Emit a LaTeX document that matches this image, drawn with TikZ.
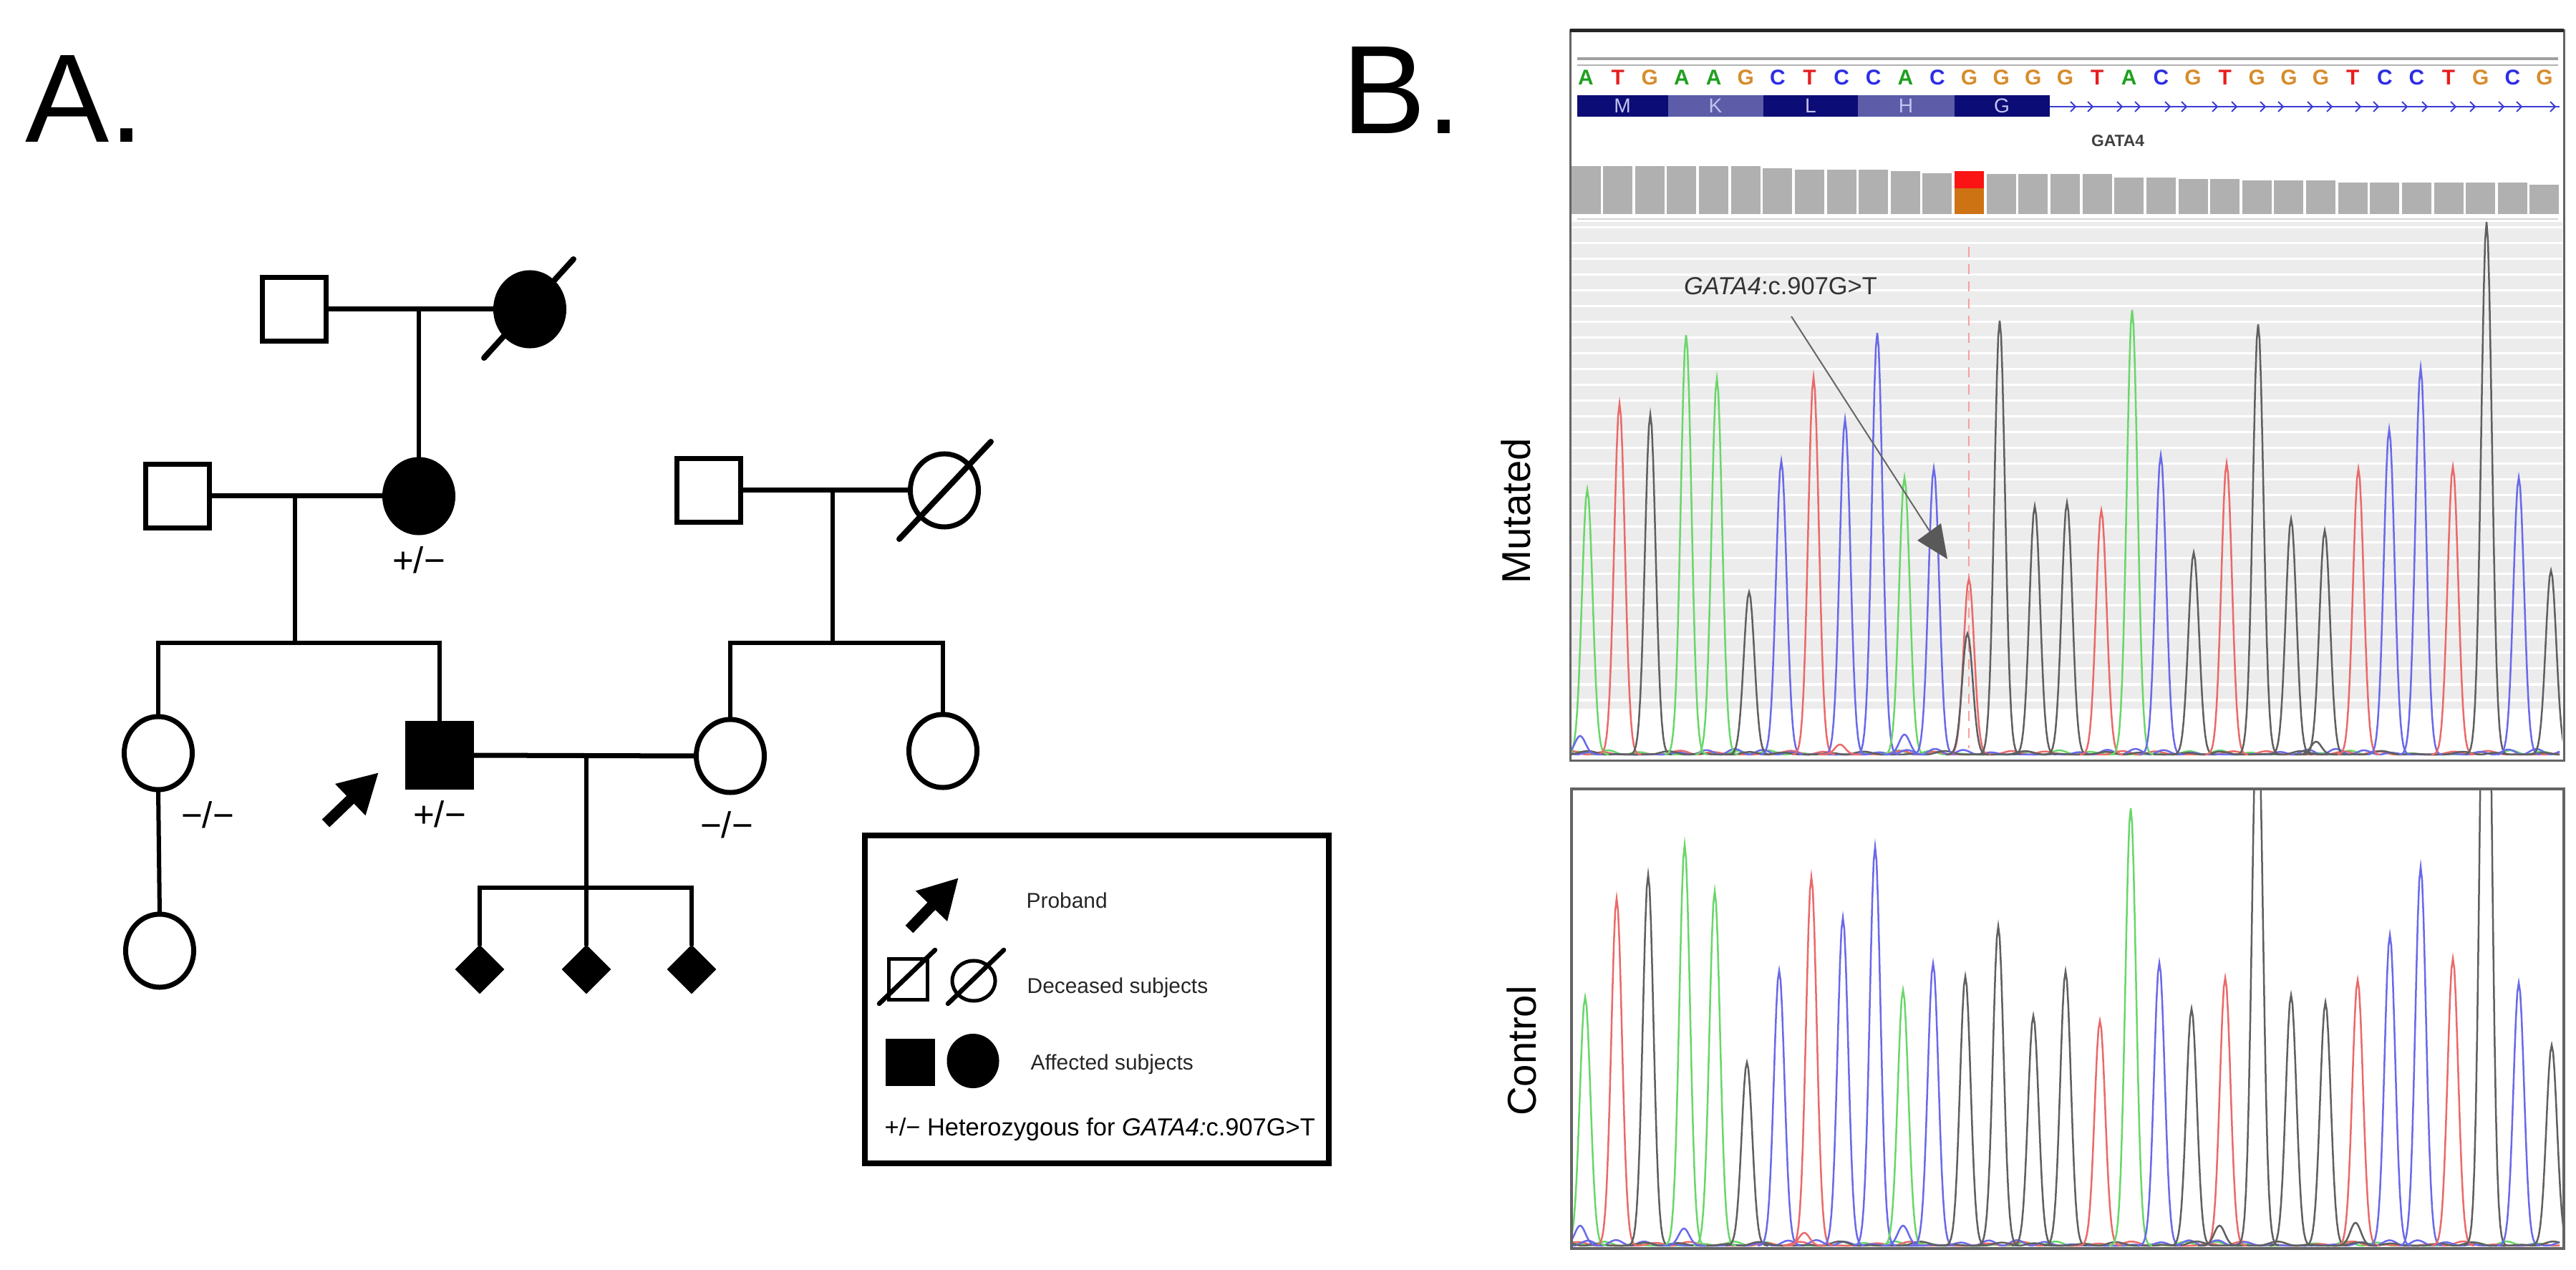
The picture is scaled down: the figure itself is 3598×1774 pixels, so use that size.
\documentclass[tikz,border=0pt]{standalone}
\usepackage{fontspec}
\setmainfont{Liberation Sans}
\usetikzlibrary{shapes.geometric,arrows.meta}
\definecolor{trg}{RGB}{105,215,105}
\definecolor{trr}{RGB}{235,105,105}
\definecolor{trb}{RGB}{105,105,235}
\definecolor{trk}{RGB}{95,95,95}
\definecolor{colA}{RGB}{30,160,30}
\definecolor{colT}{RGB}{230,30,30}
\definecolor{colG}{RGB}{215,140,45}
\definecolor{colC}{RGB}{45,45,230}
\definecolor{navy}{RGB}{12,12,118}
\definecolor{slate}{RGB}{92,92,168}
\definecolor{aalbl}{RGB}{195,195,240}
\definecolor{covgray}{RGB}{176,176,176}
\definecolor{covred}{RGB}{250,20,20}
\definecolor{covorg}{RGB}{205,115,20}
\definecolor{readbg}{RGB}{236,236,236}
\definecolor{dashred}{RGB}{245,160,160}
\definecolor{framegray}{RGB}{100,100,100}
\definecolor{tline}{RGB}{60,60,210}
\begin{document}
\begin{tikzpicture}[x=0.01cm,y=-0.01cm]
\tikzset{
 pline/.style={line width=0.06cm},
 mline/.style={line width=0.07cm},
 male/.style={draw, line width=0.07cm, rectangle, minimum size=0.89cm, inner sep=0pt, outer sep=0pt, fill=white},
 female/.style={draw, line width=0.07cm, ellipse, minimum width=0.95cm, minimum height=1.02cm, inner sep=0pt, outer sep=0pt, fill=white},
 aff/.style={fill=black},
 unk/.style={draw, fill=black, diamond, line width=0.02cm, minimum width=0.66cm, minimum height=0.66cm, inner sep=0pt, outer sep=0pt},
 slash/.style={line width=0.08cm, line cap=round},
 geno/.style={font=\fontsize{14.5}{16}\selectfont, inner sep=0pt},
 prob/.style={line width=0.15cm, -{Triangle[width=0.57cm,length=0.55cm]}},
 legtxt/.style={font=\fontsize{8.5}{10}\selectfont, text=black!85, anchor=base west, inner sep=0pt},
 big/.style={font=\fontsize{50}{60}\selectfont, anchor=base west, inner sep=0pt},
 side/.style={font=\fontsize{16}{18}\selectfont, rotate=90, inner sep=0pt},
 trace/.style={line width=0.025cm},
}
\useasboundingbox (0,0) rectangle (3598,1774);
\fill[white] (0,0) rectangle (3598,1774);

% ---------- panel labels
\node[big] (labA) at (35,199) {A.};
\node[big] (labB) at (1874,187) {B.};

% ---------- pedigree
\node[male] (I1) at (411,432) {};
\node[female,aff] (I2) at (740,432) {};
\draw[slash] ([shift={(-64,68)}]I2.center) -- ([shift={(61,-70)}]I2.center);
\draw[mline] (I1.east) -- (I2.west);
\coordinate (m1) at (585,432);

\node[male] (II1) at (248,693) {};
\node[female,aff] (II2) at (585,693) {};
\draw[pline] (m1) -- (II2.north);
\draw[mline] (II1.east) -- (II2.west);
\node[geno] (g1) at (585,782) {+/−};
\coordinate (m2) at (412,693);
\coordinate (s1) at (412,898);
\draw[pline] (m2) -- (s1);

\node[male] (II3) at (990,685) {};
\node[female] (II4) at (1319,685) {};
\draw[slash] ([shift={(-63,68)}]II4.center) -- ([shift={(65,-68)}]II4.center);
\draw[mline] (II3.east) -- (II4.west);
\coordinate (m3) at (1163,685);
\coordinate (s2) at (1163,898);
\draw[pline] (m3) -- (s2);

\node[female] (III1) at (221,1052) {};
\node[male,aff] (III2) at (614,1055) {};
\node[female] (III3) at (1020,1056) {};
\node[female] (III4) at (1317,1049) {};
\node[female] (IV1) at (223,1328) {};
\coordinate (s1a) at (221,898);
\coordinate (s1b) at (614,898);
\coordinate (s2a) at (1020,898);
\coordinate (s2b) at (1317,898);
\draw[pline] (III1.north) -- (s1a) -- (s1b) -- (III2.north);
\draw[pline] (III3.north) -- (s2a) -- (s2b) -- (III4.north);
\draw[pline] (III1.south) -- (IV1.north);
\draw[mline] (III2.east) -- (III3.west);
\node[geno] (g2) at (290,1138) {−/−};
\node[geno] (g3) at (614,1137) {+/−};
\node[geno] (g4) at (1015,1152) {−/−};
\coordinate (pa1) at (455,1150);
\coordinate (pa2) at (529,1079);
\draw[prob] (pa1) -- (pa2);

\coordinate (m4) at (819,1055);
\node[unk] (D1) at (670,1354) {};
\node[unk] (D2) at (819,1354) {};
\node[unk] (D3) at (966,1354) {};
\coordinate (s3a) at (670,1240);
\coordinate (s3b) at (966,1240);
\draw[pline] (D1.north) -- (s3a) -- (s3b) -- (D3.north);
\draw[pline] (m4) -- (D2.north);

% ---------- legend
\node[draw, line width=0.08cm, minimum width=6.47cm, minimum height=4.58cm, inner sep=0pt] (leg) at (1532,1396) {};
\coordinate (la1) at (1270,1298);
\coordinate (la2) at (1339,1226);
\draw[prob] (la1) -- (la2);
\node[legtxt] (t1) at (1433,1268) {Proband};
\node[draw, line width=0.05cm, minimum width=0.54cm, minimum height=0.56cm, inner sep=0pt] (L1) at (1268,1368) {};
\draw[slash, line width=0.065cm] (1228,1402) -- (1306,1327);
\node[draw, ellipse, line width=0.05cm, minimum width=0.6cm, minimum height=0.56cm, inner sep=0pt] (L2) at (1360,1370) {};
\draw[slash, line width=0.065cm] (1324,1402) -- (1402,1327);
\node[legtxt] (t2) at (1434,1387) {Deceased subjects};
\node[fill=black, minimum width=0.69cm, minimum height=0.66cm, inner sep=0pt] (L3) at (1271,1484) {};
\node[fill=black, ellipse, minimum width=0.73cm, minimum height=0.76cm, inner sep=0pt] (L4) at (1359,1482) {};
\node[legtxt] (t3) at (1439,1494) {Affected subjects};
\node[legtxt, font=\fontsize{9.8}{11}\selectfont, text=black] (t4) at (1235,1586) {+/− Heterozygous for \textit{GATA4:}c.907G>T};

% ---------- B: mutated panel
\fill[white] (2193,43) rectangle (3581,1062);
\fill[readbg] (2195,310) rectangle (3579,990);
\foreach \k in {0,...,30} \draw[white, line width=0.03cm] (2195,{318+22*\k}) -- (3579,{318+22*\k});
\draw[gray!75, line width=0.04cm] (2203,82) -- (3573,82);
\draw[gray!60, line width=0.025cm] (2203,91) -- (3573,91);
\foreach \b [count=\i from 0] in {A,T,G,A,A,G,C,T,C,C,A,C,G,G,G,G,T,A,C,G,T,G,G,G,T,C,C,T,G,C,G}
  \node[font=\bfseries\fontsize{8.5}{10}\selectfont, text=col\b, inner sep=0pt] (base\i) at ({2215+44.63*\i},108) {\b};
\fill[navy] (2203,133) rectangle (2330,163);
\fill[slate] (2330,133) rectangle (2463,163);
\fill[navy] (2463,133) rectangle (2595,163);
\fill[slate] (2595,133) rectangle (2730,163);
\fill[navy] (2730,133) rectangle (2863,163);
\foreach \a/\xx in {M/2266,K/2396,L/2529,H/2662,G/2796}
  \node[font=\fontsize{8}{9}\selectfont, text=aalbl, inner sep=0pt] (aa\a) at (\xx,148) {\a};
\draw[tline, line width=0.02cm] (2863,149) -- (3575,149);
\foreach \xx in {2897,2921,2962,2987,3029,3052,3095,3122,3162,3187,3228,3255,3295,3320,3360,3388,3428,3455,3495,3520,3567}
  \draw[tline, line width=0.02cm] (\xx-5,142) -- (\xx+2,149) -- (\xx-5,156);
\node[font=\bfseries\fontsize{6.5}{8}\selectfont, text=black!75, inner sep=0pt] (gene) at (2958,197) {GATA4};
\foreach \h [count=\i from 0] in {232,232,232,232,232,232,235,237,237,237,239,242,239,243,243,243,243,248,248,250,250,252,252,252,255,255,255,255,255,255,258}
  \fill[covgray] ({2215+44.63*\i-20.5},\h) rectangle ({2215+44.63*\i+20.5},299);
\fill[covred] (2730,239) rectangle (2771,263);
\fill[covorg] (2730,263) rectangle (2771,299);
\draw[gray!35, line width=0.02cm] (2203,306) -- (3573,306);
\draw[dashred, line width=0.025cm, dash pattern=on 0.14cm off 0.1cm] (2750,345) -- (2750,1045);

\begin{scope}
\clip (2195,300) rectangle (3579,1060);
\def\bl{1054}
\foreach \col/\fa/\fb/\pa/\pb/\am in {trg/8/1.7/40/10/3, trr/7/2.3/120/70/3, trb/9/1.3/200/150/4, trk/6.5/2.9/300/30/2.5}
  \draw[trace, color=\col] plot[domain=0:1380, samples=320] ({2195+\x}, {\bl-\am*(1+sin(\x*\fa+\pa))*(0.5+0.5*sin(\x*\fb+\pb))});
\foreach \px/\pt/\pc in {2217/684/trg, 2262/564/trr, 2305/579/trk, 2355/468/trg, 2398/529/trg, 2443/827/trk, 2488/644/trb, 2533/527/trr, 2577/586/trb, 2622/465/trb, 2660/667/trg, 2701/654/trb, 2750/809/trr, 2748/885/trk, 2793/448/trk, 2842/707/trk, 2887/702/trk, 2935/713/trr, 2978/433/trg, 3018/636/trb, 3064/772/trk, 3110/647/trr, 3154/453/trk, 3200/725/trk, 3247/741/trk, 3294/655/trr, 3337/600/trb, 3381/514/trb, 3426/652/trr, 3473/310/trk, 3518/667/trb, 3563/797/trk, 2207/1028/trb, 2660/1026/trb, 2570/1040/trr, 3235/1036/trk}
  \draw[trace, color=\pc] plot[domain=-30:30, samples=31] ({\px+\x}, {\bl-(\bl-\pt)*exp(-\x*\x/110)});
\end{scope}

\node[font=\fontsize{9.8}{11}\selectfont, text=black!80, inner sep=0pt] (ann) at (2487,400) {\textit{GATA4}:c.907G>T};
\coordinate (an1) at (2502,442);
\coordinate (an2) at (2712,768);
\draw[gray!80!black, line width=0.02cm] (an1) -- (an2);
\fill[black!65] (2678,755) -- (2711,731) -- (2720,781) -- cycle;

\draw[framegray, line width=0.03cm] (2193,43) rectangle (3581,1062);
\draw[black!85, line width=0.05cm] (2193,43) -- (3581,43);
\node[side] (mut) at (2117,714) {Mutated};

% ---------- B: control panel
\fill[white] (2195,1102) rectangle (3581,1744);
\begin{scope}
\clip (2197,1104) rectangle (3579,1742);
\def\bl{1740}
\foreach \col/\fa/\fb/\pa/\pb/\am in {trg/8/1.7/80/40/3, trr/7/2.3/10/110/3, trb/9/1.3/250/20/4, trk/6.5/2.9/170/90/3}
  \draw[trace, color=\col] plot[domain=0:1380, samples=320] ({2195+\x}, {\bl-\am*(1+sin(\x*\fa+\pa))*(0.5+0.5*sin(\x*\fb+\pb))});
\foreach \px/\pt/\pc in {2214/1393/trg, 2258/1255/trr, 2302/1222/trk, 2353/1180/trg, 2395/1245/trg, 2440/1484/trk, 2485/1356/trb, 2530/1225/trr, 2574/1282/trb, 2619/1183/trb, 2658/1383/trg, 2700/1346/trb, 2745/1364/trk, 2791/1294/trk, 2840/1419/trk, 2885/1357/trk, 2933/1426/trr, 2976/1129/trg, 3016/1345/trb, 3061/1409/trk, 3108/1366/trr, 3153/958/trk, 3200/1390/trk, 3248/1400/trk, 3293/1369/trr, 3338/1306/trb, 3381/1211/trb, 3426/1339/trr, 3472/619/trk, 3518/1373/trb, 3564/1460/trk, 2207/1712/trb, 2352/1716/trb, 2658/1712/trb, 3100/1712/trk, 3290/1708/trk, 2520/1722/trr}
  \draw[trace, color=\pc] plot[domain=-30:30, samples=31] ({\px+\x}, {\bl-(\bl-\pt)*exp(-\x*\x/110)});
\end{scope}
\draw[framegray, line width=0.04cm] (2195,1102) rectangle (3581,1744);
\node[side] (ctl) at (2125,1468) {Control};
\end{tikzpicture}
\end{document}
